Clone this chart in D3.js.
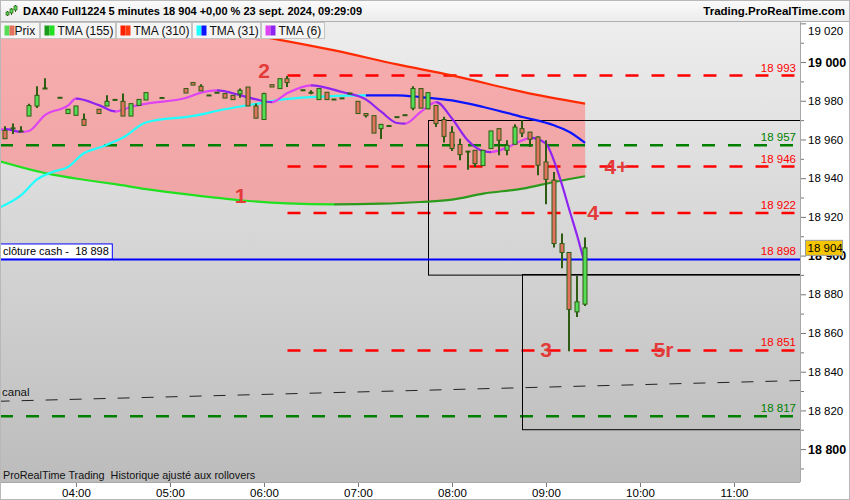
<!DOCTYPE html>
<html>
<head>
  <meta charset="utf-8">
  <title>DAX40 Full1224 5 minutes</title>
  <style>
    body { margin: 0; background: #fff; }
    svg { display: block; font-family: "Liberation Sans", Arial, sans-serif; }
  </style>
  <script src="https://d3js.org/d3.v7.min.js"></script>
</head>
<body>
<script>
// candles (5 min)
var candleTimes = ["03:15","03:20","03:25","03:30","03:35","03:40","03:50","03:55","04:00","04:05",
  "04:15","04:20","04:25","04:30","04:35","04:40","04:45","04:55","05:10","05:15",
  "05:20","05:25","05:30","05:35","05:40","05:45","05:50","05:55","06:00","06:05",
  "06:10","06:15","06:25","06:30","06:35","06:40","06:45","06:50","06:55","07:00",
  "07:05","07:10","07:15","07:20","07:25","07:30","07:35","07:40","07:45","07:50",
  "07:55","08:00","08:05","08:10","08:15","08:20","08:25","08:30","08:35","08:40",
  "08:45","08:50","08:55","09:00","09:05","09:10","09:15","09:20","09:25"];
var opens = [18964.7,18965.5,18964.4,18972.1,18977.3,18986.6,18981.8,18973.4,18972.5,18970.4,
  18975.6,18977.3,18980.7,18979.7,18972.1,18977.6,18980.4,18981.7,18986.3,18989.4,
  18987.5,18983.0,18984.4,18983.7,18982.8,18983.5,18987.1,18977.3,18970.3,18988.3,
  18986.3,18991.4,18985.7,18984.4,18980.6,18984.4,18980.9,18981.5,18984.0,18979.7,
  18973.4,18972.3,18965.6,18967.2,18971.8,18972.8,18976.2,18986.3,18975.8,18977.6,
  18970.3,18963.7,18957.4,18954.0,18954.4,18946.5,18955.3,18965.6,18954.4,18957.5,
  18965.6,18963.8,18961.3,18948.4,18939.0,18906.2,18901.6,18870.9,18874.9];
var highs = [18966.8,18968.2,18966.8,18978.5,18987.5,18991.6,18981.8,18975.6,18977.3,18973.4,
  18975.6,18982.8,18980.7,18983.7,18978.5,18980.7,18984.2,18981.7,18986.3,18989.4,
  18988.5,18983.0,18984.4,18983.7,18982.8,18986.3,18987.1,18978.6,18984.2,18988.3,
  18991.4,18992.8,18985.7,18985.4,18986.3,18984.4,18980.9,18981.5,18984.0,18979.7,
  18973.4,18972.3,18967.8,18967.2,18971.8,18972.8,18987.5,18986.3,18984.2,18977.6,
  18971.7,18966.8,18960.4,18954.0,18954.4,18954.4,18964.4,18965.6,18959.6,18967.8,
  18969.9,18963.8,18961.6,18959.6,18943.2,18911.4,18901.6,18889.4,18909.3];
var lows = [18960.4,18962.8,18964.4,18972.1,18976.2,18986.6,18981.8,18973.4,18972.5,18967.3,
  18973.4,18977.3,18980.7,18972.1,18972.1,18977.6,18980.4,18981.7,18984.0,18988.1,
  18985.1,18983.0,18984.4,18981.4,18980.6,18981.6,18977.3,18971.0,18970.3,18987.1,
  18986.3,18987.1,18985.7,18983.4,18980.6,18980.6,18980.9,18981.5,18984.0,18973.4,
  18971.3,18963.3,18960.2,18967.2,18971.8,18972.8,18975.1,18976.2,18975.8,18966.4,
  18958.4,18954.0,18949.2,18944.4,18945.8,18946.5,18955.3,18951.8,18951.8,18957.5,
  18961.3,18956.1,18941.5,18926.5,18904.2,18893.4,18850.5,18868.3,18874.0];
var closes = [18960.4,18966.0,18964.4,18977.5,18982.8,18986.6,18981.8,18975.6,18977.3,18967.3,
  18973.4,18979.7,18980.7,18972.1,18978.5,18980.7,18984.2,18981.7,18984.0,18988.1,
  18985.1,18983.0,18984.4,18981.4,18980.6,18985.4,18977.3,18971.0,18983.7,18987.1,
  18991.4,18989.4,18985.7,18984.4,18986.3,18980.6,18980.9,18981.5,18984.0,18973.4,
  18972.3,18963.3,18967.8,18967.2,18971.8,18972.8,18986.3,18976.2,18984.2,18968.2,
  18961.6,18955.3,18952.2,18954.0,18947.5,18954.4,18964.4,18959.6,18957.0,18966.4,
  18963.3,18960.1,18946.7,18939.4,18906.2,18901.6,18872.2,18876.1,18904.0];

// moving averages
var tma155Times = ["03:10","03:45","04:05","04:25","04:45","05:15","05:45","06:15","06:45","07:15","07:40","08:00","08:20","08:45","09:05","09:25"];
var tma155Values = [18949.0,18941.8,18939.2,18936.9,18934.3,18931.2,18928.6,18927.0,18926.5,18926.8,18927.7,18928.9,18932.0,18934.6,18938.0,18941.0];

var tma310Times = ["03:10","04:00","05:00","05:30","06:10","06:45","07:25","08:00","08:45","09:25"];
var tma310Values = [19036.0,19030.0,19021.5,19017.0,19011.5,19006.0,18998.8,18993.1,18984.6,18978.5];

var tma31Times = ["03:10","03:25","03:35","03:45","03:55","04:05","04:15","04:30","04:45","05:15","05:35","05:55","06:15","06:40","07:05","07:25","07:40","08:00","08:20","08:45","09:05","09:15","09:25"];
var tma31Values = [18924.4,18931.2,18939.3,18943.2,18945.8,18952.9,18955.8,18961.0,18968.9,18972.2,18975.6,18978.4,18981.0,18982.3,18982.8,18982.8,18981.9,18980.2,18976.8,18971.6,18967.3,18963.9,18958.2];

var tma6Times = ["03:10","03:15","03:25","03:30","03:40","03:55","04:00","04:15","04:25","04:35","04:45","05:10","05:20","05:30","05:45","05:55","06:05","06:15","06:30","06:50","07:05","07:15","07:25","07:30","07:40","07:50","08:00","08:10","08:20","08:25","08:35","08:45","08:50","09:00","09:05","09:10","09:15","09:20","09:25"];
var tma6Values = [18965.0,18965.3,18963.9,18964.4,18972.5,18977.6,18981.1,18977.6,18974.5,18976.8,18978.5,18981.4,18984.2,18985.4,18982.8,18980.7,18979.3,18984.0,18988.0,18984.5,18980.7,18974.2,18968.5,18968.2,18974.2,18979.3,18970.8,18959.6,18954.0,18953.5,18955.8,18959.6,18960.8,18957.9,18949.2,18937.2,18923.4,18910.0,18895.0];

// drawn levels
var redLevels = [18993, 18946, 18922, 18851];
var redLevelStart = "06:15";
var greenLevels = [18957, 18817];
var cashClose = 18898;
var lastPrice = 18904;
var canalTimes = ["03:10", "11:45"];
var canalValues = [18824.7, 18835.5];
var boxStarts = ["07:45", "08:45"];
var boxTops = [18970.3, 18890.4];
var boxBottoms = [18890.4, 18810.2];
var noteLabels = ["1", "2", "3", "4", "4+", "5r"];
var noteTimes = ["05:45", "06:00", "09:00", "09:30", "09:45", "10:15"];
var noteValues = [18931.2, 18995.7, 18851.7, 18922.4, 18946.1, 18851.7];
var legendNames = ["Prix", "TMA (155)", "TMA (310)", "TMA (31)", "TMA (6)"];

var width = 850, height = 500;
var plot = {left: 0, right: 800, top: 22, bottom: 482};

function toDate(s) {
  var p = s.split(":");
  return new Date(2024, 8, 23, +p[0], +p[1], +(p[2] || 0));
}
function fmt(v) { return d3.format(",")(v).replace(/,/g, " "); }

var x = d3.scaleTime()
  .domain([toDate("03:11:30"), toDate("11:42:08")])
  .range([plot.left, plot.right]);
var y = d3.scaleLinear()
  .domain([18783, 19020.7])
  .range([plot.bottom, plot.top]);

var svg = d3.select("body").append("svg")
  .attr("width", width)
  .attr("height", height);

var defs = svg.append("defs");
var bg = defs.append("linearGradient").attr("id", "bg")
  .attr("x1", 0).attr("y1", 0).attr("x2", 0).attr("y2", 1);
bg.append("stop").attr("offset", "0%").attr("stop-color", "#ededed");
bg.append("stop").attr("offset", "100%").attr("stop-color", "#bcbcbc");
var hd = defs.append("linearGradient").attr("id", "hd")
  .attr("x1", 0).attr("y1", 0).attr("x2", 0).attr("y2", 1);
hd.append("stop").attr("offset", "0%").attr("stop-color", "#fbfbfb");
hd.append("stop").attr("offset", "100%").attr("stop-color", "#ececec");
defs.append("clipPath").attr("id", "plotclip")
  .append("rect")
  .attr("x", plot.left).attr("y", plot.top)
  .attr("width", plot.right - plot.left).attr("height", plot.bottom - plot.top);

svg.append("rect").attr("width", width).attr("height", height).attr("fill", "#fff");

// plot background
svg.append("rect")
  .attr("x", plot.left).attr("y", plot.top)
  .attr("width", plot.right - plot.left).attr("height", plot.bottom - plot.top)
  .attr("fill", "url(#bg)");

var chart = svg.append("g").attr("clip-path", "url(#plotclip)");

// pink band between TMA 310 and TMA 155
var curve = d3.line().curve(d3.curveMonotoneX);
var top310 = tma310Times.map(function(t, i) { return [x(toDate(t)), y(tma310Values[i])]; });
var bot155 = tma155Times.map(function(t, i) { return [x(toDate(t)), y(tma155Values[i])]; });
var bandPath = curve(top310) + "L" + curve(bot155.slice().reverse()).slice(1) + "Z";
chart.append("path")
  .attr("d", bandPath)
  .attr("fill", "rgba(255,128,128,0.58)");

// horizontal levels
chart.selectAll(".glevel").data(greenLevels).enter().append("line")
  .attr("x1", plot.left).attr("x2", plot.right)
  .attr("y1", function(d) { return y(d); })
  .attr("y2", function(d) { return y(d); })
  .attr("stroke", "#008000").attr("stroke-width", 2.5)
  .attr("stroke-dasharray", "13,13");

chart.selectAll(".rlevel").data(redLevels).enter().append("line")
  .attr("x1", x(toDate(redLevelStart))).attr("x2", plot.right)
  .attr("y1", function(d) { return y(d); })
  .attr("y2", function(d) { return y(d); })
  .attr("stroke", "#ff0000").attr("stroke-width", 2.5)
  .attr("stroke-dasharray", "13,13");

// canal
chart.append("line")
  .attr("x1", x(toDate(canalTimes[0]))).attr("y1", y(canalValues[0]))
  .attr("x2", x(toDate(canalTimes[1]))).attr("y2", y(canalValues[1]))
  .attr("stroke", "#222").attr("stroke-width", 1)
  .attr("stroke-dasharray", "12,12");

// boxes
boxStarts.forEach(function(t, i) {
  chart.append("rect")
    .attr("x", Math.round(x(toDate(t))) + 0.5)
    .attr("y", Math.round(y(boxTops[i])) + 0.5)
    .attr("width", plot.right + 5 - x(toDate(t)))
    .attr("height", y(boxBottoms[i]) - y(boxTops[i]))
    .attr("fill", "none").attr("stroke", "#000").attr("stroke-width", 1);
});

// cash close line
chart.append("line")
  .attr("x1", plot.left).attr("x2", plot.right)
  .attr("y1", y(cashClose)).attr("y2", y(cashClose))
  .attr("stroke", "#0000ff").attr("stroke-width", 2);

// two-tone moving averages
var maId = 0;
function twoTone(times, values, upColor, downColor) {
  var pts = times.map(function(t, i) { return [x(toDate(t)), y(values[i])]; });
  var d = curve(pts);
  var runs = [], start = 0, dir = null;
  for (var i = 1; i < values.length; i++) {
    var s = values[i] > values[i - 1] ? 1 : -1;
    if (dir !== null && s !== dir) { runs.push({a: start, b: i - 1, dir: dir}); start = i - 1; }
    dir = s;
  }
  runs.push({a: start, b: values.length - 1, dir: dir});
  runs.forEach(function(r) {
    var id = "ma" + (maId++);
    defs.append("clipPath").attr("id", id).append("rect")
      .attr("x", pts[r.a][0]).attr("y", 0)
      .attr("width", pts[r.b][0] - pts[r.a][0] + 0.6).attr("height", height);
    chart.append("path")
      .attr("d", d)
      .attr("clip-path", "url(#" + id + ")")
      .attr("fill", "none")
      .attr("stroke", r.dir > 0 ? upColor : downColor)
      .attr("stroke-width", 2.2);
  });
}
twoTone(tma155Times, tma155Values, "#2c9a1c", "#20e020");
twoTone(tma310Times, tma310Values, "#ff2a00", "#ff2a00");
twoTone(tma31Times, tma31Values, "#20ffff", "#0a14ff");
twoTone(tma6Times, tma6Values, "#dd44f2", "#8f24f0");

// candles
var candles = candleTimes.map(function(t, i) {
  return {t: toDate(t), o: opens[i], h: highs[i], l: lows[i], c: closes[i]};
});
var cg = chart.selectAll(".candle").data(candles).enter().append("g");
cg.append("line")
  .attr("x1", function(d) { return Math.round(x(d.t)); })
  .attr("x2", function(d) { return Math.round(x(d.t)); })
  .attr("y1", function(d) { return y(d.h); })
  .attr("y2", function(d) { return y(d.l); })
  .attr("stroke", "#2d5c12").attr("stroke-width", 2);
cg.append("rect")
  .attr("x", function(d) { return Math.round(x(d.t)) - 2; })
  .attr("y", function(d) { return y(Math.max(d.o, d.c)); })
  .attr("width", 4)
  .attr("height", function(d) { return Math.max(1, y(Math.min(d.o, d.c)) - y(Math.max(d.o, d.c))); })
  .attr("fill", function(d) { return d.c >= d.o ? "#55dd55" : "#e2725f"; })
  .attr("stroke", "#2d5c12").attr("stroke-width", 1);

// numbered notes
chart.selectAll(".note").data(noteLabels).enter().append("text")
  .attr("x", function(d, i) { return x(toDate(noteTimes[i])); })
  .attr("y", function(d, i) { return y(noteValues[i]); })
  .attr("text-anchor", "middle")
  .attr("dominant-baseline", "central")
  .attr("font-size", 21).attr("font-weight", "bold")
  .attr("fill", "#e33a3a")
  .text(function(d) { return d; });

// level labels
var lvlLabels = redLevels.map(function(v) { return {v: v, c: "#ff0000"}; })
  .concat(greenLevels.map(function(v) { return {v: v, c: "#008000"}; }))
  .concat([{v: cashClose, c: "#ff0000"}]);
chart.selectAll(".lvl").data(lvlLabels).enter().append("text")
  .attr("x", plot.right - 4)
  .attr("y", function(d) { return y(d.v) - 4; })
  .attr("text-anchor", "end")
  .attr("font-size", 11.5)
  .attr("fill", function(d) { return d.c; })
  .text(function(d) { return fmt(d.v); });

chart.append("text")
  .attr("x", 2).attr("y", y(canalValues[0]) - 5)
  .attr("font-size", 11.5).attr("fill", "#111")
  .text("canal");

chart.append("text")
  .attr("x", 3).attr("y", 479)
  .attr("font-size", 10.8).attr("fill", "#111")
  .style("white-space", "pre")
  .text("ProRealTime Trading  Historique ajusté aux rollovers");

// cash close tag
var cash = svg.append("g");
var cashText = cash.append("text")
  .attr("x", 3).attr("y", y(cashClose) - 4)
  .attr("font-size", 11).attr("fill", "#000")
  .style("white-space", "pre")
  .text("clôture cash -  " + fmt(cashClose));
var cw = cashText.node().getComputedTextLength();
cash.insert("rect", "text")
  .attr("x", 0.5).attr("y", y(cashClose) - 15.5)
  .attr("width", cw + 6).attr("height", 15)
  .attr("fill", "#fff").attr("stroke", "#0000ff").attr("stroke-width", 1);

// legend
var legendColors = [["#55dd55", "#e2725f"], ["#1a9a1a", "#20e020"], ["#ff2000", "#ff3a10"], ["#20ffff", "#0a14ff"], ["#dd44f2", "#8f24f0"]];
var legendWidths = [39, 75, 75, 68, 63];
var lx = 0.5;
legendNames.forEach(function(name, i) {
  var g = svg.append("g").attr("transform", "translate(" + lx + "," + 22.5 + ")");
  g.append("rect").attr("width", legendWidths[i]).attr("height", 16)
    .attr("fill", "#f5f5f5").attr("stroke", "#c4c4c4");
  g.append("text").attr("x", i === 0 ? 14 : 17).attr("y", 12.5)
    .attr("font-size", 12).attr("fill", "#111").text(name);
  g.append("rect").attr("x", 4).attr("y", 3).attr("width", 5).attr("height", 10).attr("fill", legendColors[i][0]);
  g.append("rect").attr("x", 9).attr("y", 3).attr("width", 5).attr("height", 10).attr("fill", legendColors[i][1]);
  lx += legendWidths[i] + 1;
});

// right price axis
svg.append("rect").attr("x", plot.right).attr("y", plot.top)
  .attr("width", width - plot.right).attr("height", height - plot.top).attr("fill", "#fff");
svg.append("line").attr("x1", plot.right + 0.5).attr("x2", plot.right + 0.5)
  .attr("y1", plot.top).attr("y2", plot.bottom).attr("stroke", "#a8a8a8");

var yAxis = svg.append("g")
  .attr("transform", "translate(" + (plot.right + 1) + ",0)")
  .call(d3.axisRight(y).tickValues(d3.range(18800, 19021, 20)).tickSize(5).tickPadding(2).tickFormat(fmt));
yAxis.select(".domain").remove();
yAxis.selectAll("line").attr("stroke", "#777");
yAxis.selectAll("text")
  .attr("font-family", "Liberation Sans, Arial, sans-serif")
  .attr("font-size", function(d) { return d % 100 === 0 ? 12.5 : 11.5; })
  .attr("font-weight", function(d) { return d % 100 === 0 ? "bold" : "normal"; })
  .attr("fill", "#000")
  .attr("dy", function(d) { return d > 19010 ? "0.95em" : "0.32em"; });

var yMinor = svg.append("g")
  .attr("transform", "translate(" + (plot.right + 1) + ",0)")
  .call(d3.axisRight(y).tickValues(d3.range(18790, 19020, 20)).tickSize(3).tickFormat(""));
yMinor.select(".domain").remove();
yMinor.selectAll("line").attr("stroke", "#777");

// last price tag
svg.append("rect")
  .attr("x", plot.right + 5.5).attr("y", y(lastPrice) - 7.5)
  .attr("width", 37).attr("height", 15)
  .attr("fill", "#f6c700").attr("stroke", "#9a9a9a");
svg.append("text")
  .attr("x", plot.right + 7.5).attr("y", y(lastPrice) + 4.5)
  .attr("font-size", 11.5).attr("fill", "#000")
  .text(fmt(lastPrice));

// time axis
svg.append("rect").attr("x", 0).attr("y", plot.bottom)
  .attr("width", width).attr("height", height - plot.bottom).attr("fill", "#fff");
svg.append("line").attr("x1", 0).attr("x2", plot.right)
  .attr("y1", plot.bottom + 0.5).attr("y2", plot.bottom + 0.5).attr("stroke", "#a8a8a8");
var xAxis = svg.append("g")
  .attr("transform", "translate(0," + (plot.bottom + 1) + ")")
  .call(d3.axisBottom(x).ticks(d3.timeHour.every(1)).tickSize(4).tickPadding(2)
    .tickFormat(d3.timeFormat("%H:%M")));
xAxis.select(".domain").remove();
xAxis.selectAll("line").attr("stroke", "#777");
xAxis.selectAll("text")
  .attr("font-family", "Liberation Sans, Arial, sans-serif")
  .attr("font-size", 11.5).attr("fill", "#000");

// header
svg.append("rect").attr("x", 0).attr("y", 0).attr("width", width).attr("height", 21).attr("fill", "url(#hd)");
svg.append("line").attr("x1", 0).attr("x2", width).attr("y1", 21.5).attr("y2", 21.5).attr("stroke", "#b0b0b0");
var icon = svg.append("g").attr("transform", "translate(5,4)");
[[1, 7, 12, 8, 11], [5, 4, 11, 5, 9], [9, 1, 8, 2, 6]].forEach(function(c) {
  icon.append("line").attr("x1", c[0] + 1.5).attr("x2", c[0] + 1.5).attr("y1", c[1]).attr("y2", c[2])
    .attr("stroke", "#2d5c12");
  icon.append("rect").attr("x", c[0]).attr("y", c[3]).attr("width", 3).attr("height", c[4] - c[3])
    .attr("fill", "#55dd55").attr("stroke", "#2d5c12").attr("stroke-width", 0.7);
});
svg.append("text").attr("x", 23).attr("y", 15)
  .attr("font-size", 11).attr("font-weight", "bold").attr("fill", "#000")
  .text("DAX40 Full1224 5 minutes 18 904 +0,00 % 23 sept. 2024, 09:29:09");
svg.append("text").attr("x", 845).attr("y", 15).attr("text-anchor", "end")
  .attr("font-size", 11.5).attr("font-weight", "bold").attr("fill", "#000")
  .text("Trading.ProRealTime.com");

// outer frame
svg.append("rect").attr("x", 0.5).attr("y", 0.5).attr("width", width - 1).attr("height", height - 1)
  .attr("fill", "none").attr("stroke", "#b8b8b8");
</script>
</body>
</html>
